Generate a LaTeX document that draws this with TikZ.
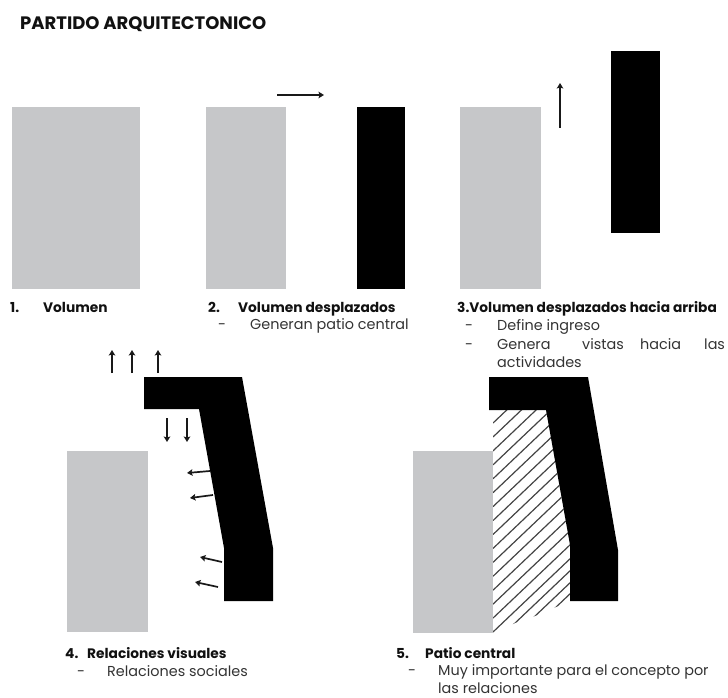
\documentclass[tikz,border=0pt]{standalone}
\usepackage{fontspec}
\setmainfont{Poppins}
\usetikzlibrary{arrows.meta}
\definecolor{vol}{HTML}{C6C7C9}
\definecolor{hatchc}{HTML}{444444}
\definecolor{txt}{HTML}{333333}
\definecolor{txtb}{HTML}{111111}
\tikzset{
  grayvol/.style={fill=vol,draw=none},
  blackvol/.style={fill=black,draw=none},
  arw/.style={draw=black!90,line width=1.7pt,-{Stealth[length=5.5pt,width=6.5pt,inset=1pt]}},
  hatchline/.style={draw=hatchc,line width=1.2pt},
  head/.style={inner sep=0pt,anchor=base west,text=txtb,font=\fontsize{13.75}{16}\selectfont\bfseries},
  body/.style={inner sep=0pt,anchor=base west,text=txt,font=\fontsize{14.4}{16}\selectfont},
  title/.style={inner sep=0pt,anchor=base west,text=txtb,font=\fontsize{18}{20}\selectfont\bfseries}
}
\begin{document}
\begin{tikzpicture}[x=1pt,y=-1pt]
\useasboundingbox (0,0) rectangle (728,698);
\node[title] (t) at (20,30) {PARTIDO ARQUITECTONICO};
% row 1
\fill[grayvol] (12,107) rectangle (140,289);
\fill[grayvol] (206,107) rectangle (286,289);
\fill[blackvol] (357,107) rectangle (405,289);
\fill[grayvol] (460,107) rectangle (541,289);
\fill[blackvol] (611,51) rectangle (660,233);
\draw[arw] (277,95) -- (324,95);
\draw[arw] (560,128) -- (560,83);
% labels row 1
\node[head] (n1) at (10,312) {1.};
\node[head] (v1) at (43,312) {Volumen};
\node[head] (n2) at (208,312) {2.};
\node[head] (v2) at (238,312) {Volumen desplazados};
\node[body] (d2) at (218,329) {-};
\node[body] (g2) at (250,329) {Generan patio central};
\node[head] (v3) at (457,312) {3.Volumen desplazados hacia arriba};
\node[body] (d3a) at (465,330) {-};
\node[body] (g3a) at (497,330) {Define ingreso};
\node[body] (d3b) at (465,349) {-};
\node[body] (g3b) at (497,349) {Genera};
\node[body] (g3c) at (582,349) {vistas};
\node[body] (g3d) at (640,349) {hacia};
\node[body] (g3e) at (704,349) {las};
\node[body] (g3f) at (497,367) {actividades};
% figure 4
\fill[grayvol] (67,451) rectangle (148,632);
\fill[blackvol] (144,377) -- (242,377) -- (273,548) -- (273,601) -- (224,601) -- (224,548) -- (199,409) -- (144,409) -- cycle;
\draw[arw] (112,373) -- (112,350);
\draw[arw] (132,373) -- (132,350);
\draw[arw] (158,373) -- (158,350);
\draw[arw] (167,418) -- (167,442);
\draw[arw] (187,418) -- (187,442);
\draw[arw] (210,471) -- (187,473);
\draw[arw] (213,495) -- (190,498);
\draw[arw] (222,562) -- (200,557);
\draw[arw] (218,587) -- (195,582);
\node[head] (n4) at (65,658) {4.};
\node[head] (v4) at (87,658) {Relaciones visuales};
\node[body] (d4) at (77,676) {-};
\node[body] (g4) at (107,676) {Relaciones sociales};
% figure 5
\fill[grayvol] (413,451) rectangle (493,633);
\begin{scope}
\clip (493,410) -- (546,410) -- (570,545) -- (570,601) -- (556,607) -- (535,616) -- (515,623) -- (493,634) -- cycle;
\foreach \k in {0,...,15}{
  \draw[hatchline] ({493},{632-13.93*\k}) -- ++(100,-95);
}
\foreach \k in {644,656,667}{
  \draw[hatchline] (493,\k) -- ++(100,-95);
}
\end{scope}
\fill[blackvol] (489,377) -- (588,377) -- (618,550) -- (618,601) -- (570,601) -- (570,545) -- (546,410) -- (489,410) -- cycle;
\node[head] (n5) at (396,658) {5.};
\node[head] (v5) at (425,658) {Patio central};
\node[body] (d5) at (408,675.5) {-};
\node[body] (g5) at (438,675.5) {Muy importante para el concepto por};
\node[body] (g5b) at (438,693) {las relaciones};
\end{tikzpicture}
\end{document}
